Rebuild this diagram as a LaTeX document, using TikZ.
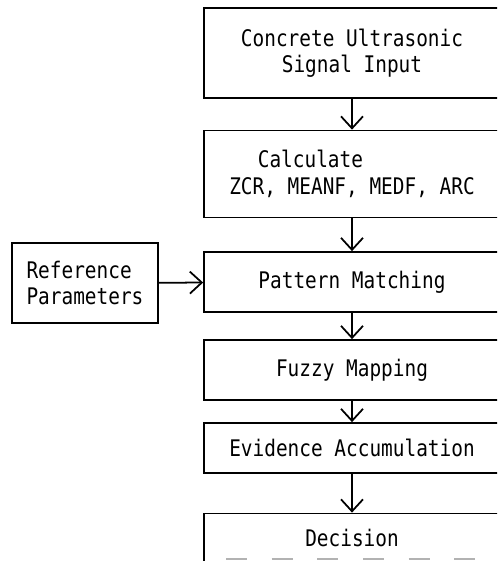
\documentclass[tikz,border=0pt]{standalone}
\usepackage{fontspec}
\setmonofont{DejaVu Sans Mono}[FakeStretch=0.85]
\usepackage{tikz}
\usetikzlibrary{arrows.meta}
\usetikzlibrary{positioning}

\begin{document}
\begin{tikzpicture}[x=0.02cm, y=-0.02cm]
	\useasboundingbox (0,0) rectangle (497,561);
	\clip (0,0) rectangle (497,561);
	\begin{scope}[every node/.style={rectangle, draw, line width=1pt, inner sep=2pt,
	              font=\ttfamily\fontsize{13}{15}\selectfont, align=center}]
		\node[minimum width=5.92cm, minimum height=1.8cm] (inp) at (352,53) {Concrete Ultrasonic\\Signal Input};
		\node[minimum width=5.92cm, minimum height=1.74cm, align=left] (calc) at (352,174) {\hspace*{1.25em}Calculate\\ZCR, MEANF, MEDF, ARC};
		\node[minimum width=5.92cm, minimum height=1.2cm] (match) at (352,282) {Pattern Matching};
		\node[minimum width=2.92cm, minimum height=1.6cm, align=left] (refp) at (85,283) {Reference\\Parameters};
		\node[minimum width=5.92cm, minimum height=1.2cm] (fuzzy) at (352,370) {Fuzzy Mapping};
		\node[minimum width=5.92cm, minimum height=1.0cm] (evid) at (352,448) {Evidence Accumulation};
		\node[minimum width=5.92cm, minimum height=1.06cm] (dec) at (352,540) {\raisebox{3pt}{Decision}};
	\end{scope}
	% broken lower edge of the last box
	\draw[gray!60, line width=1pt, dash pattern=on 12pt off 14pt] (226,559) -- (497,559);

	\begin{scope}[>={Straight Barb[length=2.4mm, width=4.4mm]},
	              every edge/.style={draw=black, line width=1pt}]
		\path (inp) edge[->] (calc);
		\path (calc) edge[->] (match);
		\path (refp) edge[->] (match);
		\path (match) edge[->] (fuzzy);
		\path (fuzzy) edge[->] (evid);
		\path (evid) edge[->] (dec);
	\end{scope}
\end{tikzpicture}
\end{document}
